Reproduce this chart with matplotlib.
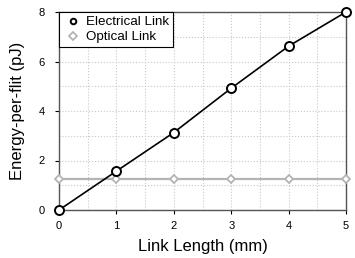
import matplotlib
matplotlib.use("Agg")
import matplotlib.pyplot as plt
from matplotlib.ticker import MultipleLocator

plt.rcParams['font.family'] = ['Liberation Sans', 'DejaVu Sans']

length = [0, 1, 2, 3, 4, 5]
electrical = [0.0, 1.57, 3.13, 4.92, 6.62, 8.0]
optical = [1.25, 1.25, 1.25, 1.25, 1.25, 1.25]

fig = plt.figure(figsize=(3.55, 2.58), dpi=100)
ax = fig.add_axes([59 / 355, 1 - 210 / 258, 287 / 355, 198 / 258])

ax.plot(length, optical, color='#b4b4b4', lw=1.6, marker='D', ms=4.5,
        mfc='white', mec='#b4b4b4', mew=1.3, label='Optical Link',
        zorder=3, clip_on=False)
ax.plot(length, electrical, color='black', lw=1.2, marker='o', ms=6.5,
        mfc='white', mec='black', mew=1.4, label='Electrical Link',
        zorder=4, clip_on=False)

ax.set_xlim(0, 5)
ax.set_ylim(0, 8)
ax.xaxis.set_major_locator(MultipleLocator(1))
ax.yaxis.set_major_locator(MultipleLocator(2))
ax.xaxis.set_minor_locator(MultipleLocator(0.5))
ax.yaxis.set_minor_locator(MultipleLocator(1))
ax.grid(which='both', color='#c8c8c8', ls=':', lw=0.8)
ax.set_axisbelow(True)
ax.tick_params(which='major', length=3, width=0.8, labelsize=8, pad=5)
ax.tick_params(axis='y', pad=7)
ax.tick_params(which='minor', length=0)
for s in ax.spines.values():
    s.set_color('#555555')
    s.set_linewidth(1.0)

ax.set_xlabel('Link Length (mm)', fontsize=12, labelpad=6)
ax.set_ylabel('Energy-per-flit (pJ)', fontsize=12, labelpad=10)

h, l = ax.get_legend_handles_labels()
leg = ax.legend(h[::-1], l[::-1], loc='upper left', fontsize=9.6,
                borderaxespad=0, handlelength=1.5, handletextpad=0.25,
                borderpad=0.3, labelspacing=0.2, fancybox=False, framealpha=1)
leg.get_frame().set_edgecolor('black')
leg.get_frame().set_linewidth(0.8)
for lh in leg.get_lines():
    lh.set_linestyle('none')
leg.legend_handles[0].set_markersize(4)
leg.legend_handles[1].set_markersize(4)
leg.set_zorder(10)

fig.savefig('out.png', dpi=100)
